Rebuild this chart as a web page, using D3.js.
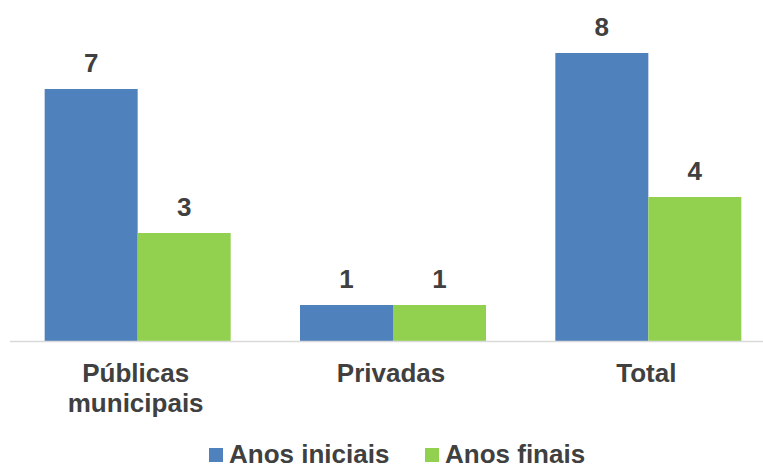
<!DOCTYPE html>
<html>
<head>
<meta charset="utf-8">
<script src="https://cdn.jsdelivr.net/npm/d3@7"></script>
<style>
  html, body { margin: 0; padding: 0; background: #ffffff; }
  svg { display: block; font-family: "Liberation Sans", Arial, sans-serif; }
</style>
</head>
<body>
<svg id="chart" width="763" height="468"></svg>
<script>
// Categories and series
const categories = [["Públicas", "municipais"], ["Privadas"], ["Total"]];
const categoryKeys = ["Públicas municipais", "Privadas", "Total"];
const seriesNames = ["Anos iniciais", "Anos finais"];
const anosIniciais = [7, 1, 8];
const anosFinais = [3, 1, 4];
const seriesColors = ["#4F81BD", "#92D050"];

const rows = categoryKeys.map((k, i) => ({
  key: k,
  lines: categories[i],
  values: [anosIniciais[i], anosFinais[i]]
}));

const svg = d3.select("#chart");
const textColor = "#404040";
const baseY = 341;

const x0 = d3.scaleBand()
  .domain(categoryKeys)
  .range([10, 776])
  .paddingInner(0.2715)
  .paddingOuter(0.2715 / 2);

const x1 = d3.scaleBand()
  .domain(seriesNames)
  .range([0, x0.bandwidth()])
  .padding(0);

const y = d3.scaleLinear()
  .domain([0, 8])
  .range([baseY, 53]);

// Bars
const groups = svg.append("g")
  .selectAll("g")
  .data(rows)
  .join("g")
  .attr("transform", d => `translate(${x0(d.key)},0)`);

groups.selectAll("rect")
  .data(d => d.values.map((v, i) => ({ name: seriesNames[i], v, i })))
  .join("rect")
  .attr("x", d => x1(d.name))
  .attr("y", d => y(d.v))
  .attr("width", x1.bandwidth())
  .attr("height", d => y(0) - y(d.v))
  .attr("fill", d => seriesColors[d.i]);

// Value labels
groups.selectAll("text.val")
  .data(d => d.values.map((v, i) => ({ name: seriesNames[i], v, i })))
  .join("text")
  .attr("class", "val")
  .attr("x", d => x1(d.name) + x1.bandwidth() / 2)
  .attr("y", d => y(d.v) - 17)
  .attr("text-anchor", "middle")
  .attr("font-size", 26)
  .attr("font-weight", "bold")
  .attr("fill", textColor)
  .text(d => d.v);

// Baseline axis
svg.append("line")
  .attr("x1", 10).attr("x2", 763)
  .attr("y1", baseY + 0.5).attr("y2", baseY + 0.5)
  .attr("stroke", "#d9d9d9")
  .attr("stroke-width", 1.5);

// Category labels
const catLabels = svg.append("g")
  .selectAll("text")
  .data(rows)
  .join("text")
  .attr("x", d => x0(d.key) + x0.bandwidth() / 2 - 2)
  .attr("y", 382)
  .attr("text-anchor", "middle")
  .attr("font-size", 26)
  .attr("font-weight", "bold")
  .attr("fill", textColor);

catLabels.selectAll("tspan")
  .data(d => d.lines.map(l => ({ l, x: x0(d.key) + x0.bandwidth() / 2 - 2 })))
  .join("tspan")
  .attr("x", d => d.x)
  .attr("dy", (d, i) => i === 0 ? 0 : 30)
  .text(d => d.l);

// Legend
const legendItems = [
  { name: seriesNames[0], color: seriesColors[0], x: 209 },
  { name: seriesNames[1], color: seriesColors[1], x: 425 }
];
const lg = svg.append("g")
  .selectAll("g")
  .data(legendItems)
  .join("g")
  .attr("transform", d => `translate(${d.x},0)`);

lg.append("rect")
  .attr("x", 0).attr("y", 448)
  .attr("width", 14).attr("height", 14)
  .attr("fill", d => d.color);

lg.append("text")
  .attr("x", 20)
  .attr("y", 462.5)
  .attr("font-size", 26)
  .attr("font-weight", "bold")
  .attr("fill", textColor)
  .text(d => d.name);
</script>
</body>
</html>
